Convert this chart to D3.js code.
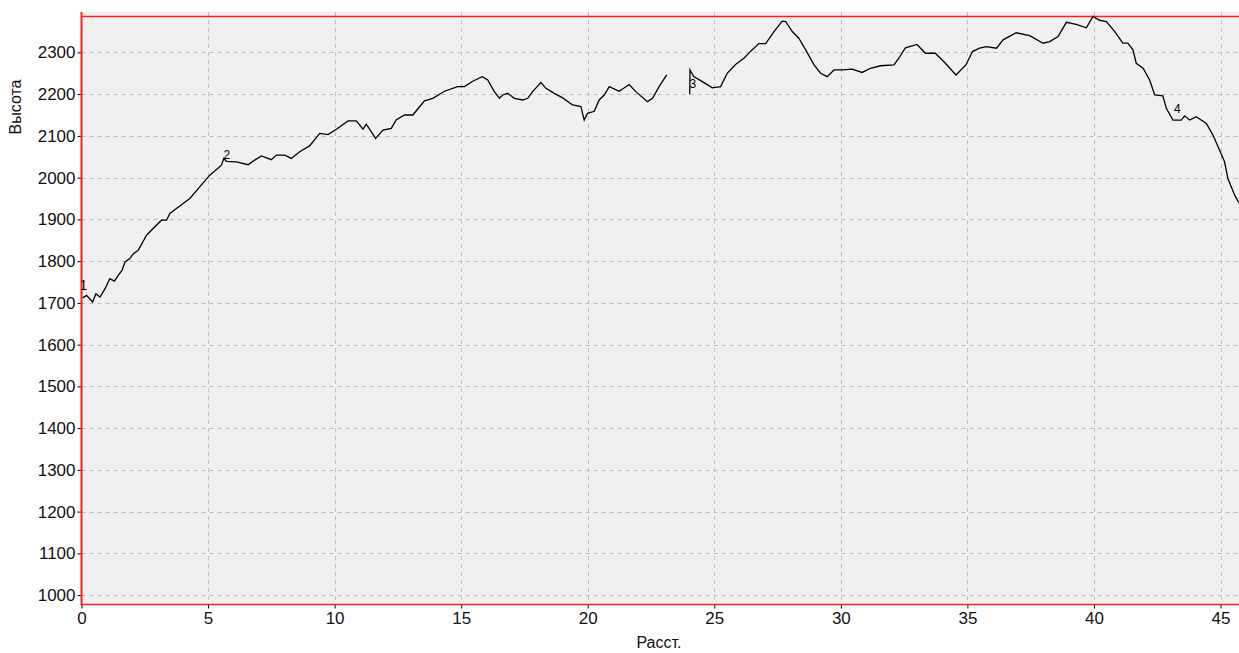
<!DOCTYPE html>
<html>
<head>
<meta charset="utf-8">
<script src="https://cdn.jsdelivr.net/npm/d3@7"></script>
<style>
  body { margin: 0; background: #fff; }
  svg { display: block; font-family: "Liberation Sans", Arial, sans-serif; }
</style>
</head>
<body>
<div id="chart"></div>
<script>
// first part of the track (before the gap)
var distA = [0.05, 0.2, 0.44, 0.57, 0.73, 0.93, 1.12, 1.3, 1.45, 1.6, 1.72, 1.91, 2.05, 2.24, 2.57, 2.83, 3.16, 3.36, 3.49, 3.75, 4.28, 4.67, 5.07, 5.53, 5.62, 5.73, 6.12, 6.58, 6.84, 7.11, 7.5, 7.7, 8.03, 8.29, 8.62, 9.01, 9.41, 9.74, 10.07, 10.53, 10.86, 11.12, 11.25, 11.62, 11.91, 12.24, 12.43, 12.76, 13.09, 13.55, 13.88, 14.34, 14.86, 15.13, 15.46, 15.83, 16.05, 16.31, 16.51, 16.64, 16.84, 17.1, 17.43, 17.63, 17.82, 18.15, 18.35, 18.68, 19.01, 19.4, 19.73, 19.86, 19.99, 20.26, 20.45, 20.65, 20.85, 21.24, 21.64, 21.9, 22.36, 22.56, 22.82, 23.12];
var elevA = [1712, 1718, 1702, 1722, 1714, 1734, 1758, 1752, 1766, 1778, 1798, 1806, 1818, 1826, 1862, 1878, 1898, 1898, 1914, 1926, 1950, 1978, 2006, 2030, 2046, 2039, 2038, 2031, 2042, 2052, 2043, 2054, 2054, 2046, 2062, 2076, 2106, 2103, 2116, 2136, 2136, 2116, 2128, 2094, 2114, 2118, 2138, 2150, 2150, 2184, 2190, 2207, 2218, 2218, 2231, 2242, 2234, 2206, 2190, 2198, 2202, 2190, 2186, 2190, 2206, 2228, 2214, 2202, 2191, 2174, 2170, 2138, 2154, 2159, 2186, 2198, 2218, 2207, 2223, 2206, 2182, 2190, 2218, 2246];

// second part of the track
var distB = [24.03, 24.04, 24.19, 24.53, 24.92, 25.25, 25.51, 25.84, 26.17, 26.44, 26.76, 27.03, 27.36, 27.68, 27.82, 28.08, 28.34, 28.61, 28.94, 29.2, 29.46, 29.73, 30.06, 30.45, 30.84, 31.17, 31.57, 32.1, 32.29, 32.55, 33.01, 33.34, 33.73, 34.13, 34.55, 34.94, 35.2, 35.48, 35.75, 36.15, 36.41, 36.93, 37.46, 37.99, 38.25, 38.58, 38.91, 39.3, 39.7, 39.96, 40.22, 40.49, 40.82, 41.14, 41.34, 41.54, 41.67, 41.94, 42.2, 42.4, 42.72, 42.86, 43.12, 43.45, 43.58, 43.78, 44.04, 44.44, 44.7, 44.96, 45.16, 45.29, 45.56, 45.72];
var elevB = [2200, 2258, 2242, 2230, 2215, 2218, 2250, 2271, 2286, 2303, 2321, 2321, 2350, 2375, 2374, 2350, 2334, 2306, 2270, 2250, 2242, 2258, 2258, 2260, 2252, 2262, 2268, 2270, 2286, 2311, 2319, 2298, 2298, 2274, 2246, 2270, 2302, 2310, 2314, 2310, 2330, 2347, 2340, 2322, 2326, 2338, 2372, 2367, 2359, 2386, 2377, 2374, 2350, 2322, 2322, 2306, 2274, 2262, 2234, 2198, 2196, 2166, 2138, 2138, 2148, 2138, 2146, 2130, 2102, 2066, 2038, 1998, 1958, 1940];

// waypoints
var wpDist = [0, 5.62, 24.03, 43.45];
var wpElev = [1714, 2046, 2230, 2138];
var wpLabel = ["1", "2", "3", "4"];

var xTicks = [0, 5, 10, 15, 20, 25, 30, 35, 40, 45];
var yTicks = [1000, 1100, 1200, 1300, 1400, 1500, 1600, 1700, 1800, 1900, 2000, 2100, 2200, 2300];

var W = 1239, H = 653;
var pLeft = 81.5, pRight = 1239, pTop = 12, pBottom = 604.5;

// where each waypoint number sits relative to its point, px
var labelShift = [[2, -7], [3, 1], [3, 6], [-4, -7]];

var x = d3.scaleLinear().domain([0, 45.73]).range([pLeft, pRight]);
var y = d3.scaleLinear().domain([977.5, 2386]).range([pBottom, 16.5]);

var svg = d3.select("#chart").append("svg")
    .attr("width", W)
    .attr("height", H);

// plot background
svg.append("rect")
    .attr("x", pLeft).attr("y", pTop)
    .attr("width", pRight - pLeft).attr("height", pBottom - pTop)
    .style("fill", "#f0f0f0");

svg.append("clipPath").attr("id", "clip")
  .append("rect")
    .attr("x", pLeft).attr("y", pTop)
    .attr("width", pRight - pLeft).attr("height", pBottom - pTop);

// grid
svg.append("g").selectAll("line")
    .data(yTicks)
  .enter().append("line")
    .attr("x1", pLeft).attr("x2", pRight)
    .attr("y1", function(d) { return Math.round(y(d)) + 0.5; })
    .attr("y2", function(d) { return Math.round(y(d)) + 0.5; })
    .style("stroke", "#bdbdbd")
    .style("stroke-dasharray", "4,4");

svg.append("g").selectAll("line")
    .data(xTicks.slice(1))
  .enter().append("line")
    .attr("y1", pTop).attr("y2", pBottom)
    .attr("x1", function(d) { return Math.round(x(d)) + 0.5; })
    .attr("x2", function(d) { return Math.round(x(d)) + 0.5; })
    .style("stroke", "#bdbdbd")
    .style("stroke-dasharray", "4,4");

// axes
var yAxis = svg.append("g")
    .attr("transform", "translate(" + pLeft + ",0)")
    .call(d3.axisLeft(y).tickValues(yTicks).tickSize(4).tickPadding(2).tickFormat(d3.format("d")));
var xAxis = svg.append("g")
    .attr("transform", "translate(0," + pBottom + ")")
    .call(d3.axisBottom(x).tickValues(xTicks).tickSize(4).tickPadding(3).tickFormat(d3.format("d")));

[yAxis, xAxis].forEach(function(a) {
  a.select(".domain").remove();
  a.selectAll(".tick line").style("stroke", "#000");
  a.selectAll("text")
      .style("font-size", "17px")
      .style("font-family", "'Liberation Sans', Arial, sans-serif")
      .style("fill", "#111");
});

// red frame lines
svg.append("line")
    .attr("x1", pLeft).attr("x2", pLeft).attr("y1", pTop).attr("y2", pBottom + 1)
    .style("stroke", "#ff2020").style("stroke-width", 2);
svg.append("line")
    .attr("x1", pLeft).attr("x2", pRight).attr("y1", 16.5).attr("y2", 16.5)
    .style("stroke", "#ff2020").style("stroke-width", 1.5);
svg.append("line")
    .attr("x1", pLeft).attr("x2", pRight).attr("y1", pBottom).attr("y2", pBottom)
    .style("stroke", "#ff2020").style("stroke-width", 1.5);

// profile line
var line = d3.line()
    .x(function(d) { return x(d[0]); })
    .y(function(d) { return y(d[1]); });

var plot = svg.append("g").attr("clip-path", "url(#clip)");
[[distA, elevA], [distB, elevB]].forEach(function(s) {
  plot.append("path")
      .datum(d3.zip(s[0], s[1]))
      .attr("d", line)
      .style("fill", "none")
      .style("stroke", "#000")
      .style("stroke-width", 1.3);
});

// waypoint labels
plot.selectAll(".wp")
    .data(d3.range(wpDist.length))
  .enter().append("text")
    .attr("class", "wp")
    .attr("x", function(i) { return x(wpDist[i]) + labelShift[i][0]; })
    .attr("y", function(i) { return y(wpElev[i]) + labelShift[i][1]; })
    .style("text-anchor", "middle")
    .style("font-size", function(i) { return i == 0 ? "14px" : "12px"; })
    .style("fill", "#000")
    .text(function(i) { return wpLabel[i]; });

// axis titles
svg.append("text")
    .attr("transform", "rotate(-90)")
    .attr("x", -107)
    .attr("y", 21)
    .style("text-anchor", "middle")
    .style("font-size", "16px")
    .style("fill", "#111")
    .text("Высота");

svg.append("text")
    .attr("x", 659)
    .attr("y", 648)
    .style("text-anchor", "middle")
    .style("font-size", "16px")
    .style("fill", "#111")
    .text("Расст.");
</script>
</body>
</html>
